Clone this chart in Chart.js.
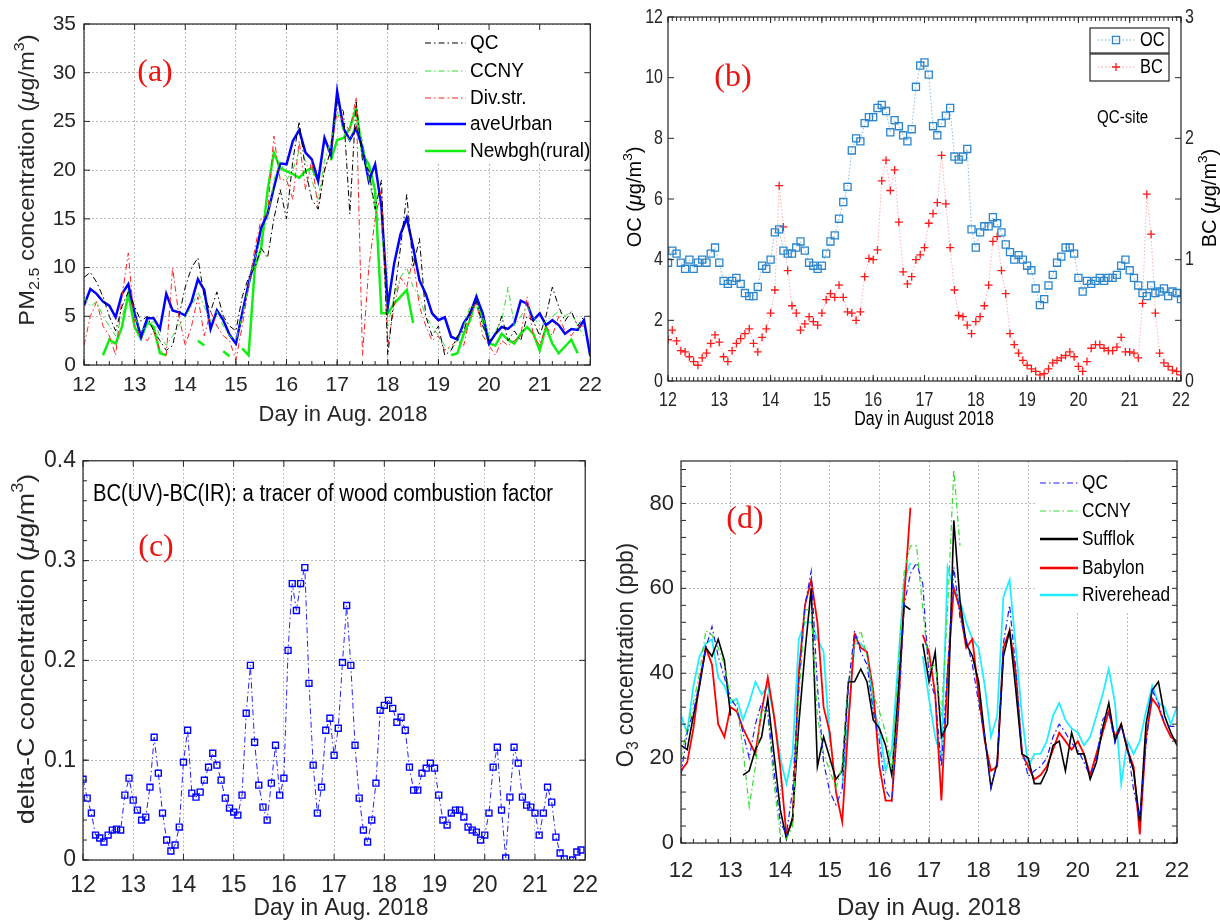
<!DOCTYPE html>
<html>
<head>
<meta charset="utf-8">
<script src="https://cdn.jsdelivr.net/npm/chart.js@4.4.1/dist/chart.umd.min.js"></script>
<style>
  body { margin: 0; background: #fff; width: 1220px; height: 924px; position: relative; overflow: hidden; }
  canvas { position: absolute; }
</style>
</head>
<body>
<canvas id="chartA" width="610" height="430" style="left:0;top:0"></canvas>
<canvas id="chartB" width="610" height="430" style="left:610px;top:0"></canvas>
<canvas id="chartC" width="610" height="484" style="left:0;top:440px"></canvas>
<canvas id="chartD" width="610" height="484" style="left:610px;top:440px"></canvas>
<script>
// sample times (day of August 2018): 3-hourly for the line panels, 2-hourly for the marker panels
const days3h = [];
for (let i = 0; i <= 80; i++) days3h.push(12 + i / 8);
const days2h = [];
for (let i = 0; i <= 120; i++) days2h.push(12 + i / 12);

const dayTicks = [12, 13, 14, 15, 16, 17, 18, 19, 20, 21, 22];
const pmTicks = [0, 5, 10, 15, 20, 25, 30, 35];
const ocTicks = [0, 2, 4, 6, 8, 10, 12];
const bcTicks = [0, 1, 2, 3];
const deltaTicks = [0, 0.1, 0.2, 0.3, 0.4];
const o3Ticks = [0, 20, 40, 60, 80];

// (a) PM2.5, 3-hourly
const pmQC = [9, 9.5, 8.5, 7, 5, 3.5, 6, 7.5,
  6, 4.5, 5, 3.5, 2.5, 1.5, 2, 5,
  8, 10, 11, 7, 5.5, 7.5, 5, 4,
  3.5, 7, 9, 10, 12, 11, 15, 18,
  15, 21, 25, 20, 17, 16, 20, 22,
  27, 26, 15.5, 27, 21, 20, 16, 19,
  1, 7, 12, 17.5, 10, 13, 5, 3,
  4, 1, 1.5, 3, 3.5, 5.5, 6.5, 4,
  2.5, 3, 5, 2.5, 3.5, 2.5, 5, 4.5,
  3, 5, 8, 6, 4.5, 5.5, 4, 5,
  null];
const pmCCNY = [7, 6, 6.5, 5, 4, 3, 5, 7,
  5, 3.5, 4, 4.5, 3, 2, 3, 4,
  5, 6, 7.5, 6, 4.5, 5.5, 4, 3,
  2.5, 5, 8, 11, 13, 15, 19, 21,
  19, 20, 22, 21, 19, 17, 21, 23,
  26, 24, 23, 25, 23, 19, 16, 14,
  4, 7, 9, 10, 8, 7, 5, 4,
  3, 2, 1.5, 2.5, 4, 6, 6, 5,
  3, 3.5, 4.5, 8, 4, 5, 6, 5,
  4, 4.5, 5, 5.5, 5, 5.5, 4, 3,
  null];
const pmDiv = [2, 5, 6.5, 4, 3, 1, 7, 11.5,
  4, 3, 2.5, 3.5, 1.5, 1, 10, 5,
  2, 4, 7, 3, 5.5, 4, 3, 2.5,
  0.5, 4, 8, 12, 15, 15.5, 23.5, 19,
  19, 17, 23, 18, 21, 16, 20, 22,
  26, 25, 24, 27.5, 1, 10, 15, 18,
  2, 6, 9, 8, 11, 6, 4, 2.5,
  3, 1.5, 2, 2.5, 2, 5, 6.5, 3,
  2, 1, 2.5, 2, 2.5, 3, 7, 3,
  2, 4, 3, 5, 3.5, 3, 4, 4,
  null];
const pmUrban = [6.1, 7.8, 7.3, 6.5, 6.1, 4.9, 7.3, 8.3,
  5.3, 2.9, 4.8, 4.8, 3.7, 7.3, 5.6, 5.4,
  5.1, 6.5, 8.8, 7.7, 3.7, 5.6, 4.6, 3.1,
  2.2, 5.3, 8.3, 10.9, 14.1, 15.5, 18.2, 20.7,
  20.6, 23, 24.1, 21.8, 21.1, 18.9, 23.3, 21.6,
  28.1, 24.3, 23.1, 24.3, 22.3, 18.9, 20.6, 16.2,
  6, 10.4, 13.4, 15.1, 12.1, 8.7, 7.3, 5.3,
  4.6, 4.9, 2.9, 2.6, 4.3, 5.3, 7, 5.3,
  2.2, 3.2, 3.9, 3.7, 4.3, 6.6, 6.3, 4.6,
  5.3, 4.1, 4.6, 4.1, 3.2, 3.7, 3.6, 4.6,
  0.9];
const pmRural = [null, null, null, 1.0, 2.6, 2.2, 3.9, 7.3,
  3.9, 2.7, 4.4, 3.9, 1.2, 1.0, null, null,
  null, null, 2.5, 2.0, null, null, 1.4, 0.9,
  null, 1.7, 1.0, 10, 12, 17.9, 21.8, 20.2,
  19.9, 19.6, 19.2, 19.9, 20.2, 18.9, null, 21,
  23.1, 23.3, 24.3, 26.4, 21.6, 20.6, 17.9, 5.3,
  5.3, 6.3, 7, 7.7, 4.3, null, null, null,
  null, null, 1.0, 1.2, 3.2, 4.6, 7, 4.6,
  2.2, 2, 3.2, 2.6, 2.2, 3.2, 3.9, 3.2,
  1.5, 3.9, 2.2, 1.2, 1.9, 2.6, 1.2, null,
  null];

// (b) OC and BC at QC site, 2-hourly
const ocQC = [3.9, 4.3, 4.2, 3.9, 3.7, 4.0, 3.7, 3.9, 4.0, 3.9, 4.2, 4.4,
  3.9, 3.3, 3.2, 3.3, 3.4, 3.2, 2.9, 2.8, 2.8, 3.1, 3.8, 3.7,
  4.0, 4.9, 5.0, 4.3, 4.2, 4.2, 4.4, 4.6, 4.3, 3.9, 3.8, 3.7,
  3.8, 4.2, 4.6, 4.8, 5.35, 5.9, 6.4, 7.6, 8.0, 7.9, 8.5, 8.7,
  8.7, 9.0, 9.1, 8.9, 8.2, 8.6, 8.4, 8.1, 7.9, 8.3, 9.7, 10.4,
  10.5, 10.1, 8.4, 8.1, 8.5, 8.75, 9.0, 7.4, 7.3, 7.4, 7.65, 5.0,
  4.4, 4.9, 5.1, 5.1, 5.4, 5.2, 4.9, 4.5, 4.25, 4.0, 4.15, 4.0,
  3.8, 3.65, 3.05, 2.5, 2.7, 3.15, 3.5, 3.9, 4.1, 4.4, 4.4, 4.2,
  3.4, 2.95, 3.3, 3.2, 3.3, 3.4, 3.3, 3.4, 3.4, 3.5, 3.8, 4.0,
  3.65, 3.4, 3.15, 2.9, 2.8, 3.15, 2.9, 2.95, 3.05, 2.8, 2.95, 2.9,
  2.7];
const bcQC = [0.34, 0.42, 0.33, 0.25, 0.24, 0.2, 0.16, 0.13, 0.19, 0.23, 0.31, 0.38,
  0.32, 0.2, 0.16, 0.25, 0.31, 0.35, 0.39, 0.43, 0.31, 0.24, 0.36, 0.43,
  0.56, 0.75, 1.61, 1.27, 0.91, 0.62, 0.56, 0.42, 0.47, 0.53, 0.49, 0.46,
  0.56, 0.67, 0.72, 0.69, 0.79, 0.69, 0.57, 0.56, 0.5, 0.57, 0.86, 1.01,
  1.0, 1.08, 1.65, 1.82, 1.57, 1.74, 1.31, 0.9, 0.8, 0.86, 1.0, 1.04,
  1.1, 1.3, 1.38, 1.47, 1.86, 1.46, 1.1, 0.75, 0.54, 0.53, 0.46, 0.39,
  0.49, 0.53, 0.62, 0.79, 1.15, 1.19, 0.91, 0.72, 0.39, 0.3, 0.23, 0.17,
  0.13, 0.1, 0.08, 0.05, 0.06, 0.1, 0.15, 0.17, 0.19, 0.21, 0.24, 0.2,
  0.12, 0.08, 0.16, 0.27, 0.3, 0.3, 0.27, 0.25, 0.25, 0.28, 0.36, 0.24,
  0.24, 0.23, 0.19, 0.64, 1.54, 1.21, 0.56, 0.23, 0.15, 0.12, 0.09, 0.08,
  0.05];

// (c) BC(UV)-BC(IR), 2-hourly
const deltaC = [0.081, 0.062, 0.047, 0.025, 0.022, 0.018, 0.025, 0.03, 0.031, 0.03, 0.065, 0.082,
  0.06, 0.05, 0.04, 0.043, 0.073, 0.123, 0.087, 0.047, 0.02, 0.009, 0.015, 0.033,
  0.098, 0.13, 0.067, 0.063, 0.068, 0.08, 0.093, 0.107, 0.095, 0.08, 0.062, 0.052,
  0.048, 0.045, 0.065, 0.147, 0.195, 0.118, 0.075, 0.053, 0.04, 0.077, 0.115, 0.065,
  0.082, 0.21, 0.277, 0.25, 0.277, 0.293, 0.177, 0.095, 0.047, 0.073, 0.13, 0.142,
  0.105, 0.132, 0.198, 0.255, 0.195, 0.115, 0.062, 0.03, 0.018, 0.04, 0.077, 0.15,
  0.155, 0.16, 0.152, 0.138, 0.143, 0.13, 0.093, 0.07, 0.07, 0.087, 0.092, 0.097,
  0.092, 0.065, 0.04, 0.035, 0.047, 0.05, 0.05, 0.043, 0.033, 0.03, 0.028, 0.02,
  0.025, 0.047, 0.093, 0.113, 0.05, 0.002, 0.063, 0.113, 0.097, 0.063, 0.055, 0.053,
  0.047, 0.025, 0.047, 0.073, 0.058, 0.023, 0.007, 0.001, null, 0.0, 0.008, 0.01,
  null];

// (d) O3, 3-hourly
const o3QC = [16, 26, 31, 38, 46, 51, 44, 39,
  34, 32, 26, 20, 28, 33, 31, 17,
  5, 2, 12.5, 38, 56, 64, 37, 19,
  12, 9, 12.5, 37, 50, 45, 42, 31,
  24, 12.5, 10, 29, 56, 63.5, 66, 61,
  39, 34.5, 18, 41, 65, 53, 48, 42,
  33, 25, 13, 19, 47, 56, 41, 22,
  15.7, 17, 18, 20, 25, 28, 26, 23.5,
  22, 19, 15.7, 20, 29, 31, 23.5, 27.5,
  23, 12.5, 6, 23, 36, 33, 28, 27.5,
  27.5];
const o3CCNY = [20, 27, 33, 40, 50, 49, 46, 42,
  34, 33, 22, 8.5, 18, 32, 30, 14,
  2, 1, 4, 34, 55, 55, 30, 21,
  17, 13, 18, 38, 47, 50, 44, 35,
  31, 26, 17, 40, 64, 70, 70, 55,
  41, 42, 30, 55, 88, 70, null, null,
  null, null, null, null, null, null, null, null,
  null, null, null, null, null, null, null, null,
  null, null, null, null, null, null, null, null,
  null, null, null, null, null, null, null, null,
  null];
const o3Suffolk = [23, 22, 30, 37, 46, 44, 48, 43,
  30, null, 16, 17, 22, 25, 34, 21,
  8, 1, 6, 28, 45, 60, 18, 25,
  20, 15, 17, 38, 38, 41, 38, 29,
  27, 23, 16, 35, 56, 55, null, 47,
  38, 45, 25, 28, 76, 57, 47, 44,
  38, 25, 13, 19, 44, 50, 36, 21,
  20, 14, 14, 17, 23, 24, 17, 26,
  21, 21, 15, 19, 27, 33, 24, 28,
  22, 17, 5, 28, 36, 38, 30, 26,
  23];
const o3Babylon = [17, 19, 27, 38, 46, 42, 28, 25,
  32, 31, 27, 24, 21, 31, 39, 30,
  18, 2, 5, 40, 56, 62, 52, 32,
  26, 12, 5, 28, 49, 46, 45, 36,
  18, 10, 10, 30, 58, 79, null, 49,
  45, 35, 10, 40, 60, 55, 46, 48,
  35, 24, 17, 18, 46, 50, 40, 21,
  18, 15, 16, 18, 22, 26, 24, 22,
  24, 21, 16, 21, 26, 31, 25, 28,
  22, 18, 2, 25, 34, 32, 28, 25,
  24];
const o3Riverhead = [30, 26, 37, 44, 47, 48, 39, 37,
  33, 34, 29, 33, 38, 35, 37, 30,
  20, 14, 21, 48, 52, 52, 48, 45,
  24, null, 13, 30, 47, 47, 45, 32,
  27, 17, 22, 42, 62, 66, null, 44,
  34, 25, 20, 65, 60, 57, 52, 48,
  46, 37, 25, 30, 58, 62, 46, 30,
  18, 21, 21, 24, 30, 33, 29, 27,
  26, 23, 25, 30, 35, 41, 33, 14,
  24, 21, 24, 31, 37, 33, 32, 28,
  32];

const ink = '#262626';
const gridColor = '#bcbcbc';
const sans = "'Liberation Sans', Arial, sans-serif";
const serif = "'Liberation Serif', 'Times New Roman', serif";
const dashDot = [6, 3, 1.5, 3];

function pairs(times, values) {
  return times.map((x, i) => ({ x: x, y: values[i] }));
}

// box round the plot area plus small inward tick marks
const frameTicks = {
  id: 'frameTicks',
  afterDatasetsDraw(chart, args, o) {
    const ctx = chart.ctx, a = chart.chartArea;
    ctx.save();
    ctx.strokeStyle = ink;
    ctx.lineWidth = 1.2;
    ctx.setLineDash([]);
    ctx.strokeRect(a.left, a.top, a.right - a.left, a.bottom - a.top);
    (o.marks || []).forEach(m => {
      const s = chart.scales[m.scale];
      const n = Math.round((m.to - m.from) / m.step);
      ctx.lineWidth = 1;
      ctx.beginPath();
      for (let i = 0; i <= n; i++) {
        const p = s.getPixelForValue(m.from + i * m.step);
        m.sides.forEach(side => {
          if (side === 'bottom') { ctx.moveTo(p, a.bottom); ctx.lineTo(p, a.bottom - m.len); }
          if (side === 'top') { ctx.moveTo(p, a.top); ctx.lineTo(p, a.top + m.len); }
          if (side === 'left') { ctx.moveTo(a.left, p); ctx.lineTo(a.left + m.len, p); }
          if (side === 'right') { ctx.moveTo(a.right, p); ctx.lineTo(a.right - m.len, p); }
        });
      }
      ctx.stroke();
    });
    ctx.restore();
  }
};

// narrow tick labels (panel b), drawn from the scale's own ticks
const squeezeTicks = {
  id: 'squeezeTicks',
  afterDraw(chart, args, o) {
    if (!o.list) return;
    const ctx = chart.ctx, a = chart.chartArea;
    ctx.save();
    ctx.fillStyle = ink;
    ctx.font = o.font;
    ctx.textBaseline = 'middle';
    o.list.forEach(l => {
      const s = chart.scales[l.scale];
      s.ticks.forEach(t => {
        const p = s.getPixelForValue(t.value);
        const txt = String(t.label);
        const w = ctx.measureText(txt).width * o.sx;
        let x, y;
        if (l.side === 'bottom') { x = p - w / 2; y = a.bottom + l.pad; }
        if (l.side === 'left') { x = a.left - l.pad - w; y = p; }
        if (l.side === 'right') { x = a.right + l.pad; y = p; }
        ctx.save();
        ctx.translate(x, y);
        ctx.scale(o.sx, 1);
        ctx.fillText(txt, 0, 0);
        ctx.restore();
      });
    });
    ctx.restore();
  }
};

// legend drawn inside the plot
const innerLegend = {
  id: 'innerLegend',
  beforeDatasetsDraw(chart, args, o) {
    if (!o.bg) return;
    const ctx = chart.ctx;
    ctx.save();
    ctx.fillStyle = '#fff';
    ctx.fillRect(o.bg[0], o.bg[1], o.bg[2], o.bg[3]);
    ctx.restore();
  },
  afterDatasetsDraw(chart, args, o) {
    if (!o.rows) return;
    const ctx = chart.ctx;
    ctx.save();
    chart.data.datasets.forEach((ds, i) => {
      const y = o.rows[i];
      if (o.boxes) {
        const b = o.boxes[i];
        ctx.fillStyle = '#fff';
        ctx.fillRect(b[0], b[1], b[2], b[3]);
        ctx.strokeStyle = ink;
        ctx.lineWidth = 1.2;
        ctx.setLineDash([]);
        ctx.strokeRect(b[0], b[1], b[2], b[3]);
      }
      ctx.strokeStyle = ds.borderColor;
      ctx.lineWidth = o.lineWidth ? o.lineWidth[i] : ds.borderWidth;
      ctx.setLineDash(ds.borderDash || []);
      ctx.beginPath();
      ctx.moveTo(o.x0, y);
      ctx.lineTo(o.x1, y);
      ctx.stroke();
      ctx.setLineDash([]);
      const cx = (o.x0 + o.x1) / 2;
      if (ds.pointRadius > 0) {
        ctx.strokeStyle = ds.pointBorderColor;
        ctx.lineWidth = ds.pointBorderWidth;
        const r = ds.pointRadius;
        ctx.beginPath();
        if (ds.pointStyle === 'rect') {
          const h = r * Math.SQRT1_2;
          ctx.rect(cx - h, y - h, 2 * h, 2 * h);
        } else {
          ctx.moveTo(cx - r, y); ctx.lineTo(cx + r, y);
          ctx.moveTo(cx, y - r); ctx.lineTo(cx, y + r);
        }
        ctx.stroke();
      }
      ctx.fillStyle = '#000';
      ctx.font = o.font;
      ctx.textBaseline = 'middle';
      ctx.textAlign = 'left';
      ctx.save();
      ctx.translate(o.tx, y);
      ctx.scale(o.sx || 1, 1);
      ctx.fillText(ds.label, 0, 0);
      ctx.restore();
    });
    ctx.restore();
  }
};

// titles and notes, with simple sub/superscripts; sx stretches along the reading direction
const richText = {
  id: 'richText',
  afterDraw(chart, args, o) {
    const ctx = chart.ctx;
    (o.items || []).forEach(it => {
      ctx.save();
      ctx.translate(it.x, it.y);
      if (it.rot) ctx.rotate(it.rot * Math.PI / 180);
      ctx.scale(it.sx || 1, 1);
      const parts = it.segs.map(s => {
        const small = s[1] === 'sub' || s[1] === 'sup';
        const size = small ? it.size * 0.68 : it.size;
        const font = (s[1] === 'it' ? 'italic ' : '') + size + 'px ' + (it.family || sans);
        ctx.font = font;
        return { t: s[0], mode: s[1], font: font, w: ctx.measureText(s[0]).width };
      });
      const total = parts.reduce((acc, p) => acc + p.w, 0);
      let x = it.align === 'left' ? 0 : -total / 2;
      ctx.fillStyle = it.color || '#000';
      ctx.textBaseline = 'middle';
      ctx.textAlign = 'left';
      parts.forEach(p => {
        ctx.font = p.font;
        let dy = 0;
        if (p.mode === 'sub') dy = it.size * 0.32;
        if (p.mode === 'sup') dy = -it.size * 0.36;
        ctx.fillText(p.t, x, dy);
        x += p.w;
      });
      ctx.restore();
    });
  }
};

Chart.register(frameTicks, squeezeTicks, innerLegend, richText);

function dayAxis(height, pad, font, showGrid, showLabels) {
  return {
    type: 'linear', min: 12, max: 22,
    afterBuildTicks: s => { s.ticks = dayTicks.map(v => ({ value: v })); },
    afterFit: s => { s.height = height; },
    grid: { display: showGrid, color: gridColor, lineWidth: 1, drawTicks: false },
    border: { display: false, dash: [2, 2] },
    ticks: { display: showLabels !== false, color: ink, font: font, padding: pad, maxRotation: 0, autoSkip: false }
  };
}

function valueAxis(min, max, list, width, pad, font, showGrid, position, showLabels) {
  return {
    type: 'linear', min: min, max: max, position: position || 'left',
    afterBuildTicks: s => { s.ticks = list.map(v => ({ value: v })); },
    afterFit: s => { s.width = width; },
    grid: { display: showGrid, color: gridColor, lineWidth: 1, drawTicks: false },
    border: { display: false, dash: [2, 2] },
    ticks: { display: showLabels !== false, color: ink, font: font, padding: pad }
  };
}

function lineSet(label, times, values, color, width, dash) {
  return {
    label: label, data: pairs(times, values),
    borderColor: color, borderWidth: width, borderDash: dash || [],
    pointRadius: 0, fill: false, spanGaps: false, tension: 0
  };
}

const baseOptions = {
  responsive: false, animation: false,
  plugins: { legend: { display: false }, tooltip: { enabled: false } }
};

// (a)
new Chart(document.getElementById('chartA'), {
  type: 'line',
  data: {
    datasets: [
      lineSet('QC', days3h, pmQC, '#000000', 1, dashDot),
      lineSet('CCNY', days3h, pmCCNY, '#33dd33', 1, dashDot),
      lineSet('Div.str.', days3h, pmDiv, '#ff2222', 1, dashDot),
      lineSet('aveUrban', days3h, pmUrban, '#0000ff', 2.5),
      lineSet('Newbgh(rural)', days3h, pmRural, '#11ee11', 2.5)
    ]
  },
  options: Object.assign({}, baseOptions, {
    layout: { padding: { top: 24, right: 8, left: 0, bottom: 0 } },
    scales: {
      x: dayAxis(65, 8, { family: sans, size: 21 }, true),
      y: valueAxis(0, 35, pmTicks, 84, 8, { family: sans, size: 21 }, true)
    },
    plugins: {
      legend: { display: false }, tooltip: { enabled: false },
      frameTicks: { marks: [
        { scale: 'x', from: 12, to: 22, step: 0.25, len: 4, sides: ['bottom'] },
        { scale: 'x', from: 12, to: 22, step: 1, len: 6, sides: ['bottom', 'top'] },
        { scale: 'y', from: 0, to: 35, step: 5, len: 6, sides: ['left', 'right'] }
      ] },
      innerLegend: { bg: [417, 25, 184, 137], rows: [43, 71, 98, 124, 151], x0: 425, x1: 466, tx: 470,
        font: '20px ' + sans, sx: 0.95 },
      richText: { items: [
        { segs: [['PM'], ['2.5', 'sub'], [' concentration ('], ['\u03bc', 'it'], ['g/m'], ['3', 'sup'], [')']],
          x: 28, y: 180, size: 22, sx: 1.08, rot: -90, color: ink },
        { segs: [['Day in Aug. 2018']], x: 343, y: 415, size: 22, color: ink },
        { segs: [['(a)']], x: 155, y: 73, size: 32, family: serif, color: '#ee1111' }
      ] }
    }
  })
});

// (b)
new Chart(document.getElementById('chartB'), {
  type: 'line',
  data: {
    datasets: [
      {
        label: 'OC', data: pairs(days2h, ocQC), yAxisID: 'y',
        borderColor: 'rgba(0,114,189,0.6)', borderWidth: 0.8, borderDash: [1.5, 2],
        pointStyle: 'rect', pointRadius: 5, pointBorderWidth: 1.3,
        pointBorderColor: '#2a85cc', pointBackgroundColor: 'rgba(255,255,255,0)'
      },
      {
        label: 'BC', data: pairs(days2h, bcQC), yAxisID: 'y1',
        borderColor: 'rgba(255,90,90,0.6)', borderWidth: 0.8, borderDash: [1.5, 2],
        pointStyle: 'cross', pointRadius: 4, pointBorderWidth: 1.3,
        pointBorderColor: '#ff1a1a', pointBackgroundColor: '#ff1a1a'
      }
    ]
  },
  options: Object.assign({}, baseOptions, {
    layout: { padding: { top: 17, right: 0, left: 0, bottom: 0 } },
    scales: {
      x: dayAxis(49, 9, { family: sans, size: 20 }, false, false),
      y: valueAxis(0, 12, ocTicks, 58, 5, { family: sans, size: 20 }, false, 'left', false),
      y1: valueAxis(0, 3, bcTicks, 39, 4, { family: sans, size: 20 }, false, 'right', false)
    },
    plugins: {
      legend: { display: false }, tooltip: { enabled: false },
      squeezeTicks: { font: '20px ' + sans, sx: 0.8, list: [
        { scale: 'x', side: 'bottom', pad: 19 },
        { scale: 'y', side: 'left', pad: 5 },
        { scale: 'y1', side: 'right', pad: 4 }
      ] },
      frameTicks: { marks: [
        { scale: 'x', from: 12, to: 22, step: 1 / 12, len: 4, sides: ['bottom', 'top'] },
        { scale: 'x', from: 12, to: 22, step: 1, len: 6, sides: ['bottom', 'top'] },
        { scale: 'y', from: 0, to: 12, step: 2, len: 6, sides: ['left'] },
        { scale: 'y1', from: 0, to: 3, step: 0.5, len: 6, sides: ['right'] }
      ] },
      innerLegend: { rows: [40, 67], boxes: [[480, 28, 79, 25], [480, 54, 79, 27]], x0: 488, x1: 524, tx: 530,
        lineWidth: [1, 1], font: '20px ' + sans, sx: 0.82 },
      richText: { items: [
        { segs: [['OC ('], ['\u03bc', 'it'], ['g/m'], ['3', 'sup'], [')']],
          x: 25, y: 197, size: 20, rot: -90, color: '#000' },
        { segs: [['BC ('], ['\u03bc', 'it'], ['g/m'], ['3', 'sup'], [')']],
          x: 600, y: 198, size: 20, rot: -90, color: '#000' },
        { segs: [['Day in August 2018']], x: 314, y: 419, size: 20, sx: 0.8, color: '#000' },
        { segs: [['QC-site']], x: 487, y: 118, size: 18, sx: 0.84, align: 'left', color: '#000' },
        { segs: [['(b)']], x: 123, y: 78, size: 32, family: serif, color: '#ee1111' }
      ] }
    }
  })
});

// (c)
new Chart(document.getElementById('chartC'), {
  type: 'line',
  data: {
    datasets: [{
      label: 'delta-C', data: pairs(days2h, deltaC),
      borderColor: '#2222ff', borderWidth: 1, borderDash: dashDot,
      pointStyle: 'rect', pointRadius: 4.2, pointBorderWidth: 1.4,
      pointBorderColor: '#0000ff', pointBackgroundColor: 'rgba(255,255,255,0)', spanGaps: false
    }]
  },
  options: Object.assign({}, baseOptions, {
    layout: { padding: { top: 20, right: 10, left: 0, bottom: 0 } },
    scales: {
      x: dayAxis(64, 12, { family: sans, size: 23 }, true),
      y: valueAxis(0, 0.4, deltaTicks, 83, 7, { family: sans, size: 23 }, true)
    },
    plugins: {
      legend: { display: false }, tooltip: { enabled: false },
      frameTicks: { marks: [
        { scale: 'x', from: 12, to: 22, step: 1, len: 6, sides: ['bottom', 'top'] },
        { scale: 'y', from: 0, to: 0.4, step: 0.02, len: 4, sides: ['left'] },
        { scale: 'y', from: 0, to: 0.4, step: 0.1, len: 6, sides: ['left', 'right'] }
      ] },
      richText: { items: [
        { segs: [['delta-C concentration ('], ['\u03bc', 'it'], ['g/m'], ['3', 'sup'], [')']],
          x: 27, y: 209, size: 24, sx: 1.12, rot: -90, color: ink },
        { segs: [['Day in Aug. 2018']], x: 341, y: 468, size: 24, sx: 0.95, color: ink },
        { segs: [['BC(UV)-BC(IR): a tracer of wood combustion factor']], x: 93, y: 55, size: 23,
          sx: 0.88, align: 'left', color: '#000' },
        { segs: [['(c)']], x: 156, y: 108, size: 32, family: serif, color: '#ee1111' }
      ] }
    }
  })
});

// (d)
new Chart(document.getElementById('chartD'), {
  type: 'line',
  data: {
    datasets: [
      lineSet('QC', days3h, o3QC, '#1a1aff', 1.2, dashDot),
      lineSet('CCNY', days3h, o3CCNY, '#33dd33', 1.2, dashDot),
      lineSet('Sufflok', days3h, o3Suffolk, '#000000', 1.6),
      lineSet('Babylon', days3h, o3Babylon, '#ff0000', 1.8),
      lineSet('Riverehead', days3h, o3Riverhead, '#22eeff', 1.8)
    ]
  },
  options: Object.assign({}, baseOptions, {
    layout: { padding: { top: 21, right: 43, left: 0, bottom: 0 } },
    scales: {
      x: dayAxis(81, 15, { family: sans, size: 22 }, true),
      y: valueAxis(0, 90, o3Ticks, 71, 7, { family: sans, size: 22 }, true)
    },
    plugins: {
      legend: { display: false }, tooltip: { enabled: false },
      frameTicks: { marks: [
        { scale: 'x', from: 12, to: 22, step: 0.25, len: 4, sides: ['bottom'] },
        { scale: 'x', from: 12, to: 22, step: 1, len: 6, sides: ['bottom'] },
        { scale: 'y', from: 0, to: 88, step: 4, len: 5, sides: ['left', 'right'] }
      ] },
      innerLegend: { bg: [425, 22, 141, 151], rows: [43, 71, 99, 128, 155], x0: 430, x1: 468, tx: 472,
        lineWidth: [1.2, 1.2, 2.5, 2.5, 2.5], font: '21px ' + sans, sx: 0.82 },
      richText: { items: [
        { segs: [['O'], ['3', 'sub'], [' concentration (ppb)']],
          x: 16, y: 215, size: 24, sx: 0.93, rot: -90, color: ink },
        { segs: [['Day in Aug. 2018']], x: 319, y: 468, size: 24, color: ink },
        { segs: [['(d)']], x: 135, y: 80, size: 32, family: serif, color: '#ee1111' }
      ] }
    }
  })
});
</script>
</body>
</html>
